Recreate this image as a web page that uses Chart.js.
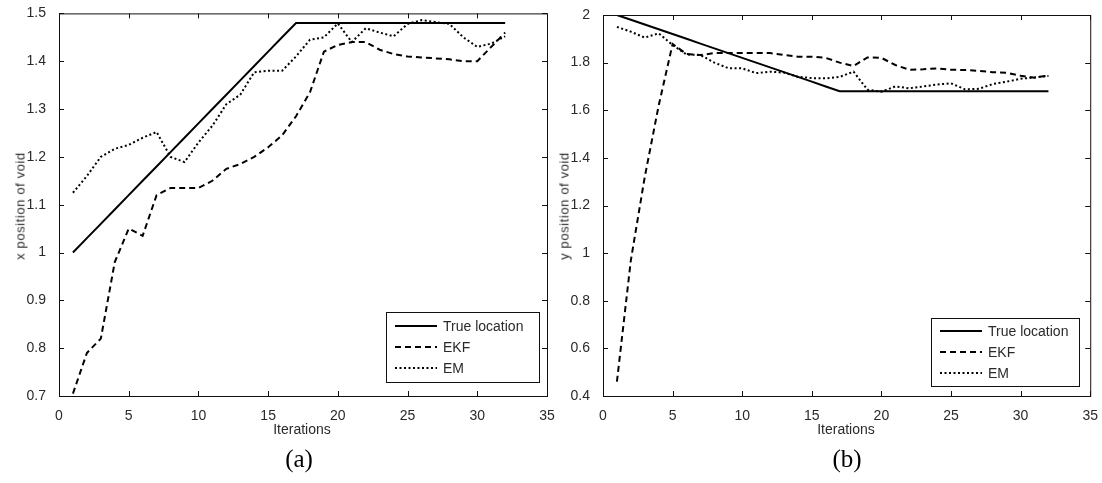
<!DOCTYPE html>
<html>
<head>
<meta charset="utf-8">
<script src="https://cdn.jsdelivr.net/npm/chart.js@4.4.1/dist/chart.umd.min.js"></script>
<style>
  html, body { margin: 0; padding: 0; background: #fff; }
  #wrap { position: relative; width: 1102px; height: 483px; overflow: hidden;
          font-family: "Liberation Sans", Arial, sans-serif; color: #2a2a2a; }
  canvas { position: absolute; top: 0; }
  .lbl { position: absolute; font-size: 14px; white-space: nowrap; transform: translate(-50%, -50%); }
  .ylbl { transform: translate(-50%, -50%) rotate(-90deg); font-size: 13px; letter-spacing: 0.6px; }
  .cap { font-family: "Liberation Serif", "Times New Roman", serif; font-size: 25px; color: #000; }
</style>
</head>
<body>
<div id="wrap">
  <canvas id="chartA" width="560" height="483" style="left:0"></canvas>
  <canvas id="chartB" width="557" height="483" style="left:545px"></canvas>

  <div class="lbl ylbl" style="left:20px; top:206px">x position of void</div>
  <div class="lbl" style="left:302px; top:429px">Iterations</div>
  <div class="lbl cap" style="left:299px; top:459px">(a)</div>

  <div class="lbl ylbl" style="left:564px; top:206px">y position of void</div>
  <div class="lbl" style="left:846px; top:429px">Iterations</div>
  <div class="lbl cap" style="left:847px; top:459px">(b)</div>
</div>

<script>
  // ── Data ──────────────────────────────────────────────────────
  const iterations = [1, 2, 3, 4, 5, 6, 7, 8, 9, 10, 11, 12, 13, 14, 15, 16,
                      17, 18, 19, 20, 21, 22, 23, 24, 25, 26, 27, 28, 29, 30, 31, 32];

  // (a) x position
  const trueX = [1.00, 1.03, 1.06, 1.09, 1.12, 1.15, 1.18, 1.21, 1.24, 1.27, 1.30, 1.33, 1.36, 1.39, 1.42, 1.45,
                 1.48, 1.48, 1.48, 1.48, 1.48, 1.48, 1.48, 1.48, 1.48, 1.48, 1.48, 1.48, 1.48, 1.48, 1.48, 1.48];
  const ekfX  = [0.705, 0.79, 0.82, 0.98, 1.05, 1.035, 1.12, 1.135, 1.135, 1.135, 1.15, 1.175, 1.185, 1.20, 1.22, 1.245,
                 1.285, 1.335, 1.42, 1.434, 1.44, 1.44, 1.424, 1.415, 1.41, 1.408, 1.406, 1.404, 1.40, 1.40, 1.43, 1.46];
  const emX   = [1.125, 1.16, 1.20, 1.217, 1.225, 1.24, 1.252, 1.20, 1.189, 1.23, 1.265, 1.31, 1.33, 1.377, 1.38, 1.38,
                 1.41, 1.445, 1.45, 1.479, 1.44, 1.469, 1.46, 1.452, 1.478, 1.486, 1.482, 1.478, 1.45, 1.43, 1.437, 1.452];

  // (b) y position
  const trueY = [2.00, 1.98, 1.96, 1.94, 1.92, 1.90, 1.88, 1.86, 1.84, 1.82, 1.80, 1.78, 1.76, 1.74, 1.72, 1.70,
                 1.68, 1.68, 1.68, 1.68, 1.68, 1.68, 1.68, 1.68, 1.68, 1.68, 1.68, 1.68, 1.68, 1.68, 1.68, 1.68];
  const ekfY  = [0.46, 0.97, 1.32, 1.62, 1.878, 1.836, 1.832, 1.84, 1.84, 1.84, 1.84, 1.84, 1.832, 1.825, 1.825, 1.82,
                 1.80, 1.786, 1.822, 1.82, 1.79, 1.77, 1.772, 1.776, 1.77, 1.769, 1.765, 1.76, 1.757, 1.745, 1.737, 1.746];
  const emY   = [1.95, 1.93, 1.905, 1.923, 1.874, 1.834, 1.832, 1.80, 1.777, 1.776, 1.756, 1.762, 1.758, 1.741, 1.735, 1.734,
                 1.74, 1.762, 1.686, 1.678, 1.70, 1.692, 1.70, 1.708, 1.713, 1.688, 1.69, 1.71, 1.72, 1.732, 1.738, 1.744];

  const xTicks  = [0, 35, 5];          // min, max, step
  const yTicksA = [0.7, 1.5, 0.1];
  const yTicksB = [0.4, 2.0, 0.2];

  const seriesNames = ["True location", "EKF", "EM"];

  // ── Styling ───────────────────────────────────────────────────
  const INK = "#111";
  const TXT = "#2a2a2a";
  const FONT = "'Liberation Sans', Arial, sans-serif";
  const lineStyles = [
    { borderDash: [],       borderWidth: 2 },
    { borderDash: [6, 4],   borderWidth: 2 },
    { borderDash: [2, 2.5], borderWidth: 2 },
  ];

  const pts = (ys) => iterations.map((it, i) => ({ x: it, y: ys[i] }));
  const fmt = (v) => String(parseFloat(v.toFixed(1)));

  // Matlab-like box with inward ticks, plus an in-axes legend.
  const frame = {
    id: "frame",
    afterDraw(chart, args, opts) {
      const { ctx, chartArea: a, scales } = chart;
      ctx.save();
      ctx.strokeStyle = INK;
      ctx.lineWidth = 1;
      ctx.setLineDash([]);
      ctx.strokeRect(a.left + 0.5, a.top + 0.5, a.right - a.left, a.bottom - a.top);

      const tl = 5;
      ctx.beginPath();
      scales.x.ticks.forEach((t) => {
        const px = Math.round(scales.x.getPixelForValue(t.value)) + 0.5;
        ctx.moveTo(px, a.bottom); ctx.lineTo(px, a.bottom - tl);
        ctx.moveTo(px, a.top);    ctx.lineTo(px, a.top + tl);
      });
      scales.y.ticks.forEach((t) => {
        const py = Math.round(scales.y.getPixelForValue(t.value)) + 0.5;
        ctx.moveTo(a.left, py);  ctx.lineTo(a.left + tl, py);
        ctx.moveTo(a.right, py); ctx.lineTo(a.right - tl, py);
      });
      ctx.stroke();

      // legend
      const b = opts.box;
      ctx.fillStyle = "#fff";
      ctx.fillRect(b.x, b.y, b.w, b.h);
      ctx.strokeRect(b.x + 0.5, b.y + 0.5, b.w, b.h);
      ctx.font = "14px " + FONT;
      ctx.textBaseline = "middle";
      chart.data.datasets.forEach((ds, i) => {
        const y = opts.rows[i];
        ctx.strokeStyle = "#000";
        ctx.lineWidth = ds.borderWidth;
        ctx.setLineDash(ds.borderDash);
        ctx.beginPath();
        ctx.moveTo(b.x + 9, y); ctx.lineTo(b.x + 51, y);
        ctx.stroke();
        ctx.fillStyle = TXT;
        ctx.fillText(ds.label, b.x + 57, y + 1);
      });
      ctx.restore();
    },
  };

  function makeChart(id, ys, yTicks, pad, legend) {
    return new Chart(document.getElementById(id), {
      type: "line",
      data: {
        datasets: ys.map((arr, i) => ({
          label: seriesNames[i],
          data: pts(arr),
          borderColor: "#000",
          borderDash: lineStyles[i].borderDash,
          borderWidth: lineStyles[i].borderWidth,
          pointRadius: 0,
          tension: 0,
          fill: false,
        })),
      },
      options: {
        responsive: false,
        animation: false,
        devicePixelRatio: 1,
        layout: { padding: pad },
        plugins: { legend: { display: false }, tooltip: { enabled: false }, frame: legend },
        scales: {
          x: {
            type: "linear",
            min: xTicks[0], max: xTicks[1],
            grid: { display: false }, border: { display: false },
            ticks: { stepSize: xTicks[2], padding: 4, color: TXT, font: { family: FONT, size: 14 } },
            afterFit: (s) => { s.height = 87; },
          },
          y: {
            min: yTicks[0], max: yTicks[1],
            grid: { display: false }, border: { display: false },
            ticks: { stepSize: yTicks[2], padding: 5, color: TXT, font: { family: FONT, size: 14 },
                     callback: (v) => fmt(v) },
            afterFit: (s) => { s.width = pad.yw; },
          },
        },
      },
      plugins: [frame],
    });
  }

  makeChart("chartA", [trueX, ekfX, emX], yTicksA,
    { top: 13, right: 13, bottom: 0, left: 0, yw: 59 },
    { box: { x: 386, y: 312, w: 153, h: 70 }, rows: [326, 347, 368] });

  makeChart("chartB", [trueY, ekfY, emY], yTicksB,
    { top: 15, right: 10, bottom: 0, left: 0, yw: 58 },
    { box: { x: 386, y: 318, w: 148, h: 68 }, rows: [331, 352, 373] });
</script>
</body>
</html>
